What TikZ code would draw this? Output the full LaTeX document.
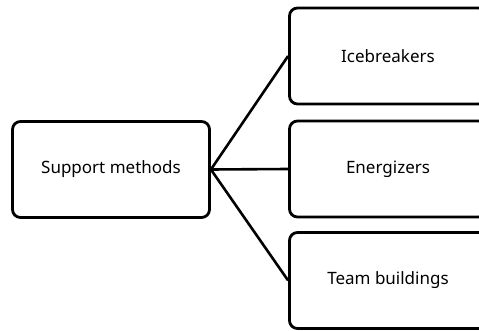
\documentclass[tikz,border=0pt]{standalone}
\usepackage{fontspec}
\setmainfont{Noto Sans}
\usepackage{tikz}
\pgfdeclarelayer{bg}
\pgfsetlayers{bg,main}
\tikzset{
        box/.style={draw, line width=2.8pt, rounded corners=8pt, minimum width=197pt,
                minimum height=96pt, inner sep=0pt, font=\fontsize{17}{20}\selectfont},
        link/.style={line width=2.6pt}
}

\begin{document}
\begin{tikzpicture}
        \useasboundingbox (0pt, 0pt) rectangle (479pt, -331pt);
        \node (support) [box] at (111.000000pt, -169.500000pt) {Support methods};
        \node (ice) [box] at (388.000000pt, -56.000000pt) {Icebreakers};
        \node (energy) [box] at (388.000000pt, -169.000000pt) {Energizers};
        \node (team) [box] at (388.000000pt, -280.500000pt) {Team buildings};
        \begin{pgfonlayer}{bg}
                \draw (support.east) edge [link] (ice.west);
                \draw (support.east) edge [link] (energy.west);
                \draw (support.east) edge [link] (team.west);
        \end{pgfonlayer}
\end{tikzpicture}
\end{document}
